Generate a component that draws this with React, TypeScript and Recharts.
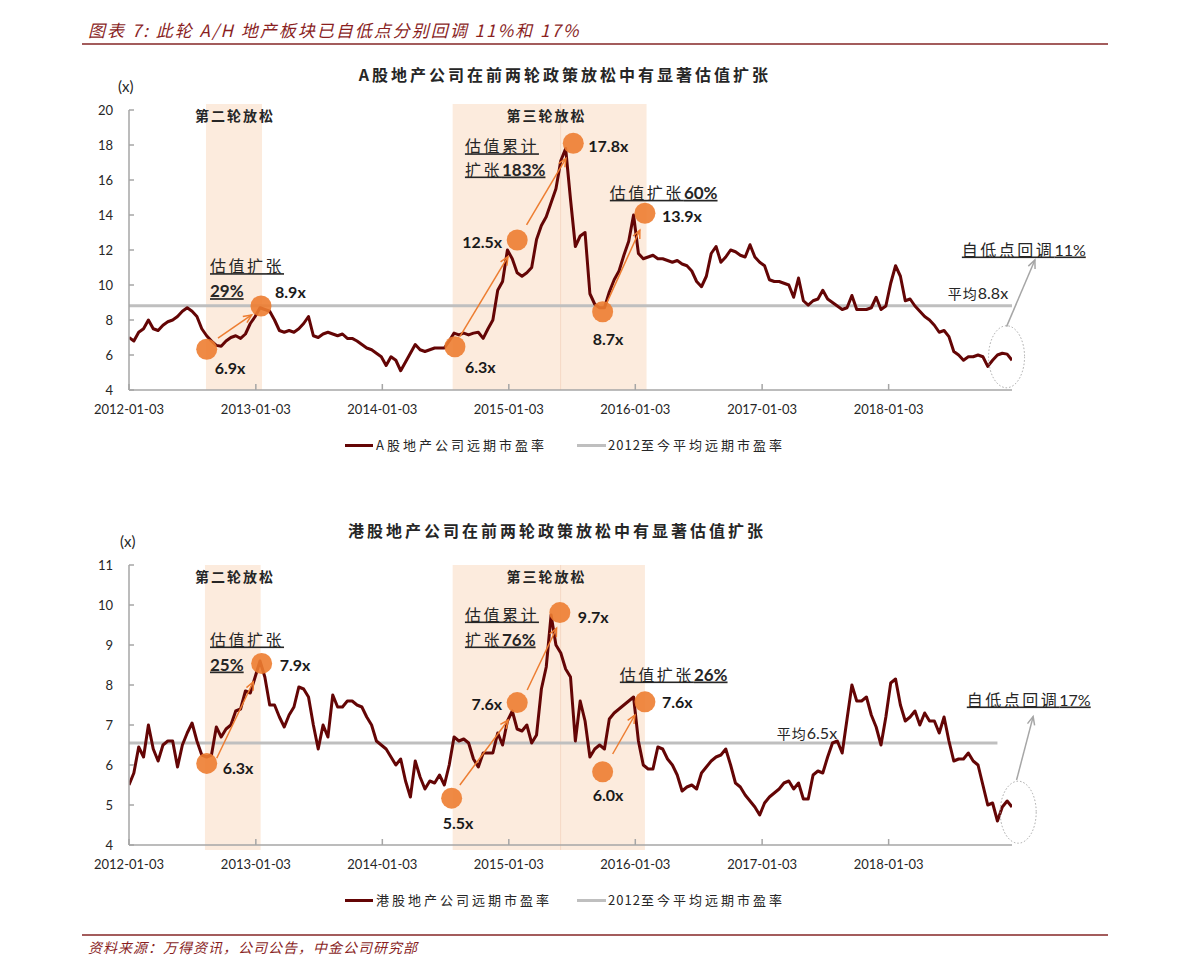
import React from 'react';
import { LineChart, Line, XAxis, YAxis, ReferenceArea, ReferenceDot, ReferenceLine } from 'recharts';

// ---------------- data (bi-weekly readings, first point 2012-01-03) ----------------
const STEP_DAYS = 14;

const aPe2012 = [7.0, 6.8, 7.3, 7.5, 8.0, 7.5, 7.4, 7.7, 7.9, 8.0, 8.2, 8.5, 8.7, 8.5, 8.2, 7.5, 7.1, 6.8, 6.55, 6.5, 6.8, 7.0, 7.1, 6.95, 7.2, 7.8];
const aPe2013 = [8.2, 8.7, 8.6, 8.5, 8.0, 7.4, 7.3, 7.4, 7.3, 7.5, 7.8, 8.2, 7.1, 7.0, 7.2, 7.3, 7.2, 7.1, 7.2, 6.95, 6.95, 6.8, 6.6, 6.4, 6.3, 6.1];
const aPe2014 = [5.9, 5.4, 5.9, 5.7, 5.1, 5.6, 6.1, 6.6, 6.3, 6.2, 6.3, 6.4, 6.4, 6.4, 6.8, 7.25, 7.15, 7.25, 7.15, 7.25, 7.3, 6.95, 7.5, 8.0, 9.7, 10.2];
const aPe2015 = [12.0, 11.5, 10.7, 10.5, 10.7, 11.0, 12.6, 13.4, 13.9, 14.7, 15.5, 17.1, 17.8, 14.9, 12.2, 12.8, 13.0, 9.5, 8.9, 8.7, 8.7, 9.6, 10.3, 10.8, 11.7, 12.5];
const aPe2016 = [14.0, 11.8, 11.5, 11.6, 11.7, 11.5, 11.5, 11.4, 11.3, 11.4, 11.2, 11.1, 10.8, 10.2, 9.9, 10.5, 11.8, 12.2, 11.3, 11.6, 12.0, 11.9, 11.7, 11.6, 12.3, 11.6];
const aPe2017 = [11.3, 11.1, 10.3, 10.2, 10.2, 10.1, 10.0, 9.3, 10.4, 9.1, 8.85, 9.1, 9.2, 9.7, 9.2, 9.0, 8.8, 8.6, 8.7, 9.4, 8.6, 8.6, 8.6, 8.7, 9.3, 8.6];
const aPe2018 = [8.8, 10.1, 11.1, 10.5, 9.1, 9.2, 8.8, 8.5, 8.2, 8.0, 7.7, 7.3, 7.4, 7.05, 6.2, 6.0, 5.7, 5.9, 5.9, 6.0, 5.9, 5.35, 5.7, 6.0, 6.1, 6.05, 5.7];

const hPe2012 = [5.5, 5.8, 6.45, 6.2, 7.0, 6.4, 6.1, 6.5, 6.6, 6.6, 5.95, 6.5, 6.8, 7.05, 6.6, 6.25, 6.2, 6.25, 6.95, 6.7, 6.9, 7.0, 7.35, 7.4, 7.85, 7.8];
const hPe2013 = [8.2, 8.6, 8.2, 7.5, 7.5, 7.2, 6.95, 7.25, 7.45, 7.95, 7.9, 7.7, 7.0, 6.4, 7.0, 6.7, 7.75, 7.45, 7.45, 7.6, 7.6, 7.5, 7.45, 7.2, 7.0, 6.6];
const hPe2014 = [6.5, 6.4, 6.2, 6.0, 6.15, 5.6, 5.2, 6.1, 5.7, 5.4, 5.6, 5.55, 5.75, 5.5, 6.0, 6.7, 6.6, 6.65, 6.55, 6.15, 5.95, 6.3, 6.3, 6.3, 6.8, 6.5];
const hPe2015 = [7.1, 7.35, 6.9, 6.85, 7.0, 6.55, 6.75, 7.9, 8.45, 9.75, 9.0, 8.8, 8.4, 8.2, 6.6, 7.6, 7.1, 6.2, 6.4, 6.5, 6.4, 7.15, 7.3, 7.4, 7.5, 7.6];
const hPe2016 = [7.7, 6.6, 6.0, 5.9, 5.9, 6.45, 6.4, 6.15, 6.0, 5.75, 5.35, 5.45, 5.5, 5.4, 5.8, 5.95, 6.1, 6.2, 6.25, 6.4, 6.0, 5.55, 5.45, 5.25, 5.1, 4.95];
const hPe2017 = [4.75, 5.05, 5.2, 5.3, 5.4, 5.55, 5.6, 5.4, 5.55, 5.15, 5.15, 5.75, 5.85, 5.8, 6.2, 6.55, 6.6, 6.3, 7.15, 8.0, 7.6, 7.6, 7.7, 7.25, 6.95, 6.5];
const hPe2018 = [7.2, 8.05, 8.15, 7.5, 7.1, 7.2, 7.35, 7.0, 7.3, 7.1, 7.1, 6.8, 7.2, 6.6, 6.1, 6.15, 6.15, 6.3, 6.1, 6.0, 5.5, 5.0, 5.05, 4.6, 4.95, 5.1, 4.95];

const aAvg = 8.82;
const hAvg = 6.55;
const hAvgLastIndex = 179;

const xTickDates = ['2012-01-03', '2013-01-03', '2014-01-03', '2015-01-03', '2016-01-03', '2017-01-03', '2018-01-03'];
const aYTicks = [4, 6, 8, 10, 12, 14, 16, 18, 20];
const hYTicks = [4, 5, 6, 7, 8, 9, 10, 11];

// easing periods (decimal years)
const aShades = [{ from: 2012.608, to: 2013.051 }, { from: 2014.557, to: 2016.089 }];
const hShades = [{ from: 2012.600, to: 2013.040 }, { from: 2014.557, to: 2016.076 }];
const splitYear = 2015.41;

// highlighted lows / highs
const aMarks = [
  { x: 2012.614, y: 6.33, text: '6.9x' },
  { x: 2013.043, y: 8.80, text: '8.9x' },
  { x: 2014.575, y: 6.47, text: '6.3x' },
  { x: 2015.067, y: 12.57, text: '12.5x' },
  { x: 2015.510, y: 18.10, text: '17.8x' },
  { x: 2015.742, y: 8.47, text: '8.7x' },
  { x: 2016.076, y: 14.10, text: '13.9x' },
];
const hMarks = [
  { x: 2012.614, y: 6.04, text: '6.3x' },
  { x: 2013.048, y: 8.54, text: '7.9x' },
  { x: 2014.549, y: 5.17, text: '5.5x' },
  { x: 2015.067, y: 7.56, text: '7.6x' },
  { x: 2015.404, y: 9.81, text: '9.7x' },
  { x: 2015.742, y: 5.83, text: '6.0x' },
  { x: 2016.076, y: 7.58, text: '7.6x' },
];
const aMarkLabelOffsets = [[8, 19, 'start'], [14, -14, 'start'], [10, 20, 'start'], [-15, 2, 'end'], [15, 3, 'start'], [-10, 27, 'start'], [17, 3, 'start']];
const hMarkLabelOffsets = [[16, 5, 'start'], [18, 2, 'start'], [-9, 25, 'start'], [-15, 1, 'end'], [18, 4, 'start'], [-10, 23, 'start'], [17, 0, 'start']];

const aArrows = [
  { x1: 2012.703, y1: 6.97, x2: 2012.969, y2: 8.29 },
  { x1: 2014.614, y1: 7.05, x2: 2014.994, y2: 11.62 },
  { x1: 2015.141, y1: 13.43, x2: 2015.452, y2: 17.24 },
  { x1: 2015.773, y1: 8.95, x2: 2016.036, y2: 13.14 },
];
const hArrows = [
  { x1: 2012.693, y1: 6.17, x2: 2012.982, y2: 8.08 },
  { x1: 2014.614, y1: 5.5, x2: 2014.996, y2: 7.125 },
  { x1: 2015.146, y1: 7.875, x2: 2015.378, y2: 9.42 },
  { x1: 2015.821, y1: 6.275, x2: 2015.997, y2: 7.25 },
];
const aPullArrow = { x1: 2018.933, y1: 7.62, x2: 2019.157, y2: 11.43 };
const hPullArrow = { x1: 2019.012, y1: 5.625, x2: 2019.143, y2: 7.21 };
const aRecentZone = { x: 2018.933, y: 5.9 };
const hRecentZone = { x: 2019.025, y: 4.82 };

type Part = { t: string; k: 'cjk' | 'num' | 'numReg' | 'head' | 'small' };
type Note = { x: number; y: number; parts: Part[]; u?: boolean; mid?: boolean };

const aNotes: Note[] = [
  { x: 2012.837, y: 19.71, parts: [{ t: '第二轮放松', k: 'head' }], mid: true },
  { x: 2015.299, y: 19.71, parts: [{ t: '第三轮放松', k: 'head' }], mid: true },
  { x: 2012.64, y: 11.05, parts: [{ t: '估值扩张', k: 'cjk' }], u: true },
  { x: 2012.64, y: 9.62, parts: [{ t: '29%', k: 'num' }], u: true },
  { x: 2014.654, y: 17.9, parts: [{ t: '估值累计', k: 'cjk' }], u: true },
  { x: 2014.654, y: 16.57, parts: [{ t: '扩张', k: 'cjk' }, { t: '183%', k: 'num' }], u: true },
  { x: 2015.799, y: 15.24, parts: [{ t: '估值扩张', k: 'cjk' }, { t: '60%', k: 'num' }], u: true },
  { x: 2018.469, y: 9.53, parts: [{ t: '平均', k: 'small' }, { t: '8.8x', k: 'numReg' }] },
  { x: 2018.58, y: 12.0, parts: [{ t: '自低点回调', k: 'cjk' }, { t: '11%', k: 'numReg' }], u: true },
];
const hNotes: Note[] = [
  { x: 2012.837, y: 10.725, parts: [{ t: '第二轮放松', k: 'head' }], mid: true },
  { x: 2015.299, y: 10.725, parts: [{ t: '第三轮放松', k: 'head' }], mid: true },
  { x: 2012.64, y: 9.125, parts: [{ t: '估值扩张', k: 'cjk' }], u: true },
  { x: 2012.64, y: 8.5, parts: [{ t: '25%', k: 'num' }], u: true },
  { x: 2014.654, y: 9.75, parts: [{ t: '估值累计', k: 'cjk' }], u: true },
  { x: 2014.654, y: 9.125, parts: [{ t: '扩张', k: 'cjk' }, { t: '76%', k: 'num' }], u: true },
  { x: 2015.878, y: 8.25, parts: [{ t: '估值扩张', k: 'cjk' }, { t: '26%', k: 'num' }], u: true },
  { x: 2017.118, y: 6.79, parts: [{ t: '平均', k: 'small' }, { t: '6.5x', k: 'numReg' }] },
  { x: 2018.619, y: 7.625, parts: [{ t: '自低点回调', k: 'cjk' }, { t: '17%', k: 'numReg' }], u: true },
];

// ---------------- helpers ----------------
const DAY_MS = 86400000;
const BASE_MS = Date.UTC(2012, 0, 3);
const YEAR_DAYS = 365.25;
const decYear = (d: string) => {
  const [y, m, dd] = d.split('-').map(Number);
  return 2012 + (Date.UTC(y, m - 1, dd) - BASE_MS) / (YEAR_DAYS * DAY_MS);
};
const pointYear = (i: number) => 2012 + (i * STEP_DAYS) / YEAR_DAYS;
const xTicks = xTickDates.map(decYear);

const aPe = [...aPe2012, ...aPe2013, ...aPe2014, ...aPe2015, ...aPe2016, ...aPe2017, ...aPe2018];
const hPe = [...hPe2012, ...hPe2013, ...hPe2014, ...hPe2015, ...hPe2016, ...hPe2017, ...hPe2018];
const aData = aPe.map((v, i) => ({ t: pointYear(i), pe: v, avg: aAvg }));
const hData = hPe.map((v, i) => ({ t: pointYear(i), pe: v, avg: i <= hAvgLastIndex ? hAvg : null }));
const xMin = pointYear(0);
const xMax = pointYear(aPe.length - 1);

// ---------------- styles ----------------
const LINE_COLOR = '#640505';
const AVG_COLOR = '#BFBFBF';
const SHADE = '#FCEBDD';
const ORANGE = '#ED7D31';
const AXIS = '#A6A6A6';
const TEXT = '#262626';
const DARK_RED = '#8A1F1F';
const RULE = '#A35C5C';
const CJK = '"Noto Sans CJK SC", "Noto Sans", sans-serif';
const LAT = 'Lato, "Noto Sans", sans-serif';
const Y_TICK_GAP = 16;

const partStyle = (k: Part['k']): any => {
  switch (k) {
    case 'cjk': return { fontFamily: CJK, fontSize: 16, letterSpacing: 2.5, fontWeight: 400 };
    case 'num': return { fontFamily: LAT, fontSize: 17, fontWeight: 700 };
    case 'numReg': return { fontFamily: LAT, fontSize: 16, fontWeight: 400 };
    case 'head': return { fontFamily: CJK, fontSize: 14, fontWeight: 700, letterSpacing: 2 };
    default: return { fontFamily: CJK, fontSize: 14, fontWeight: 400, letterSpacing: 1 };
  }
};

const XTick = (props: any) => {
  const { x, y, payload } = props;
  const idx = xTicks.findIndex((t) => Math.abs(t - payload.value) < 1e-6);
  return (
    <g>
      <line x1={x} x2={x} y1={y} y2={y - 6} stroke={AXIS} strokeWidth={1.5} />
      <text x={x} y={y + 24} textAnchor="middle" fontFamily={LAT} fontSize={13} fill={TEXT}>{idx >= 0 ? xTickDates[idx] : ''}</text>
    </g>
  );
};

const YTick = (props: any) => {
  const { x, y, payload } = props;
  return (
    <g>
      <line x1={x + Y_TICK_GAP} x2={x + Y_TICK_GAP + 5} y1={y} y2={y} stroke={AXIS} strokeWidth={1.5} />
      <text x={x} y={y + 4.5} textAnchor="end" fontFamily={LAT} fontSize={13} fill={TEXT}>{payload.value}</text>
    </g>
  );
};

const arrowShape = (color: string) => (p: any) => {
  const x1 = Number(p.x1), y1 = Number(p.y1), x2 = Number(p.x2), y2 = Number(p.y2);
  const ang = Math.atan2(y2 - y1, x2 - x1);
  const len = 9, spread = 0.42;
  const ax = x2 - len * Math.cos(ang - spread), ay = y2 - len * Math.sin(ang - spread);
  const bx = x2 - len * Math.cos(ang + spread), by = y2 - len * Math.sin(ang + spread);
  return (
    <g>
      <line x1={x1} y1={y1} x2={x2} y2={y2} stroke={color} strokeWidth={1.5} />
      <polyline points={`${ax},${ay} ${x2},${y2} ${bx},${by}`} fill="none" stroke={color} strokeWidth={1.5} />
    </g>
  );
};

const markShape = (text: string, off: any[]) => (p: any) => (
  <g>
    <circle cx={p.cx} cy={p.cy} r={10.5} fill={ORANGE} fillOpacity={0.9} />
    <text x={p.cx + off[0]} y={p.cy + off[1] + 6} textAnchor={off[2]} fontFamily={LAT} fontWeight={700} fontSize={16} fill="#1a1a1a">{text}</text>
  </g>
);

const noteShape = (n: Note) => (p: any) => (
  <text x={p.cx} y={p.cy + 5.5} textAnchor={n.mid ? 'middle' : 'start'} fill={TEXT}
    style={{ textDecoration: n.u ? 'underline' : 'none' }}>
    {n.parts.map((pt, k) => <tspan key={k} {...partStyle(pt.k)}>{pt.t}</tspan>)}
  </text>
);

const zoneShape = (p: any) => (
  <ellipse cx={p.cx} cy={p.cy} rx={18} ry={31} fill="none" stroke="#A6A6A6" strokeWidth={1} strokeDasharray="1.5 2" />
);

function Panel(props: any) {
  const { top, data, yDomain, yTicks, shades, shadeBottom, shadeTop, marks, offsets, arrows, pull, zone, notes, marginBottom, marginTop } = props;
  return (
    <div style={{ position: 'absolute', left: 0, top, width: 1191, height: 440 }}>
      <LineChart width={1191} height={440} data={data} margin={{ top: marginTop, right: 179, left: 69, bottom: marginBottom }}>
        {shades.map((s: any, k: number) => (
          <ReferenceArea key={'s' + k} x1={s.from} x2={s.to} y1={shadeBottom} y2={shadeTop} fill={SHADE} fillOpacity={1} stroke="none" ifOverflow="visible" zIndex={-50} />
        ))}
        <ReferenceLine segment={[{ x: splitYear, y: shadeBottom }, { x: splitYear, y: shadeTop }]} stroke="#F5D8C4" strokeWidth={1} ifOverflow="visible" zIndex={-40} />
        <XAxis dataKey="t" type="number" domain={[xMin, xMax]} ticks={xTicks} interval={0} height={30}
          axisLine={{ stroke: AXIS, strokeWidth: 1.5 }} tickLine={false} tickSize={0} tickMargin={0} tick={<XTick />} allowDataOverflow />
        <YAxis type="number" domain={yDomain} ticks={yTicks} interval={0} width={60}
          axisLine={{ stroke: AXIS, strokeWidth: 1.5 }} tickLine={false} tickSize={0} tickMargin={Y_TICK_GAP} tick={<YTick />} allowDataOverflow />
        <Line dataKey="avg" type="linear" stroke={AVG_COLOR} strokeWidth={3} dot={false} isAnimationActive={false} connectNulls={false} />
        <Line dataKey="pe" type="linear" stroke={LINE_COLOR} strokeWidth={3} strokeLinejoin="round" dot={false} isAnimationActive={false} />
        {arrows.map((a: any, k: number) => (
          <ReferenceLine key={'a' + k} segment={[{ x: a.x1, y: a.y1 }, { x: a.x2, y: a.y2 }]} ifOverflow="visible" shape={arrowShape(ORANGE)} zIndex={700} />
        ))}
        <ReferenceLine segment={[{ x: pull.x1, y: pull.y1 }, { x: pull.x2, y: pull.y2 }]} ifOverflow="visible" shape={arrowShape('#A6A6A6')} zIndex={700} />
        <ReferenceDot x={zone.x} y={zone.y} ifOverflow="visible" shape={zoneShape} zIndex={700} />
        {marks.map((m: any, k: number) => (
          <ReferenceDot key={'m' + k} x={m.x} y={m.y} ifOverflow="visible" shape={markShape(m.text, offsets[k])} zIndex={800} />
        ))}
        {notes.map((n: Note, k: number) => (
          <ReferenceDot key={'n' + k} x={n.x} y={n.y} ifOverflow="visible" shape={noteShape(n)} zIndex={800} />
        ))}
      </LineChart>
    </div>
  );
}

const abs = (s: any): any => ({ position: 'absolute', whiteSpace: 'nowrap', ...s });

function LegendRow({ top, label1 }: { top: number; label1: string }) {
  const t = { fontFamily: CJK, fontSize: 13, letterSpacing: 3, color: TEXT, lineHeight: '18px' };
  return (
    <>
      <div style={abs({ left: 345, top: top - 1.5, width: 28, height: 3, background: LINE_COLOR })} />
      <div style={abs({ left: 376, top: top - 9, ...t })}>{label1}</div>
      <div style={abs({ left: 577, top: top - 1.5, width: 29, height: 3, background: AVG_COLOR })} />
      <div style={abs({ left: 608, top: top - 9, ...t })}><span style={{ letterSpacing: 1 }}>2012</span>至今平均远期市盈率</div>
    </>
  );
}

export default function App() {
  return (
    <div style={{ position: 'absolute', left: 0, top: 0, width: 1191, height: 976, background: '#fff', overflow: 'hidden' }}>
      <div style={abs({ left: 88, top: 19, fontFamily: CJK, fontStyle: 'italic', fontSize: 17, letterSpacing: 2, color: DARK_RED, lineHeight: '22px' })}>
        图表 7:  此轮 A/H 地产板块已自低点分别回调 11%和 17%
      </div>
      <div style={abs({ left: 82, top: 43, width: 1026, height: 1.5, background: RULE })} />

      <div style={abs({ left: 265, top: 63, width: 600, textAlign: 'center', fontFamily: CJK, fontWeight: 700, fontSize: 16, letterSpacing: 3, color: TEXT, lineHeight: '22px' })}>
        A股地产公司在前两轮政策放松中有显著估值扩张
      </div>
      <div style={abs({ left: 118, top: 76, fontFamily: LAT, fontSize: 15, color: TEXT, lineHeight: '20px' })}>(x)</div>

      <Panel top={0} data={aData} yDomain={[4, 20]} yTicks={aYTicks} shades={aShades} shadeBottom={4} shadeTop={20.35}
        marks={aMarks} offsets={aMarkLabelOffsets} arrows={aArrows} pull={aPullArrow} zone={aRecentZone} notes={aNotes}
        marginTop={110} marginBottom={20} />
      <LegendRow top={445} label1="A股地产公司远期市盈率" />

      <div style={abs({ left: 257, top: 519, width: 600, textAlign: 'center', fontFamily: CJK, fontWeight: 700, fontSize: 16, letterSpacing: 3, color: TEXT, lineHeight: '22px' })}>
        港股地产公司在前两轮政策放松中有显著估值扩张
      </div>
      <div style={abs({ left: 120, top: 531, fontFamily: LAT, fontSize: 15, color: TEXT, lineHeight: '20px' })}>(x)</div>

      <Panel top={460} data={hData} yDomain={[4, 11]} yTicks={hYTicks} shades={hShades} shadeBottom={3.875} shadeTop={11}
        marks={hMarks} offsets={hMarkLabelOffsets} arrows={hArrows} pull={hPullArrow} zone={hRecentZone} notes={hNotes}
        marginTop={105} marginBottom={25} />
      <LegendRow top={900} label1="港股地产公司远期市盈率" />

      <div style={abs({ left: 82, top: 934, width: 1026, height: 1.5, background: RULE })} />
      <div style={abs({ left: 88, top: 937, fontFamily: CJK, fontStyle: 'italic', fontSize: 14, letterSpacing: 1, color: DARK_RED, lineHeight: '20px' })}>
        资料来源：万得资讯，公司公告，中金公司研究部
      </div>
    </div>
  );
}
